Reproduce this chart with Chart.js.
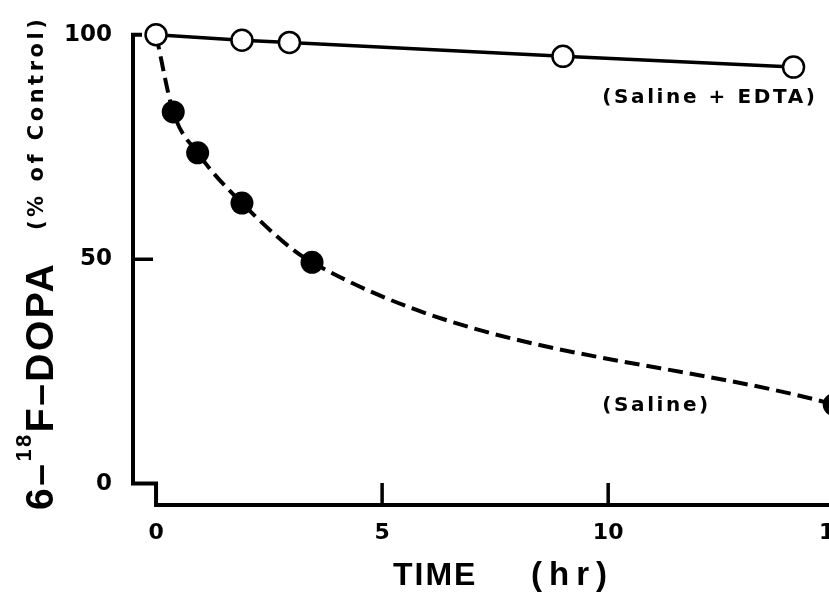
<!DOCTYPE html>
<html>
<head>
<meta charset="utf-8">
<script src="https://cdn.jsdelivr.net/npm/chart.js@4"></script>
<style>
html, body { margin: 0; padding: 0; background: #fff; overflow: hidden; }
#wrap { width: 880px; height: 595px; }
</style>
</head>
<body>
<div id="wrap"><canvas id="dopaChart" width="880" height="595"></canvas></div>
<script>
// values (time in hr, % of control)
const edtaTime = [0, 1.9, 2.95, 9, 14.1];
const edtaValue = [100, 98.8, 98.3, 95.2, 92.8];
const salineTime = [0, 0.38, 0.92, 1.9, 3.45, 15];
const salineValue = [100, 82.8, 73.7, 62.5, 49.3, 17.6];
const xTicks = [0, 5, 10, 15];
const yTicks = [0, 50, 100];

const ink = '#000';
const toPts = (xs, ys) => xs.map((x, i) => ({ x: x, y: ys[i] }));

// broken-corner axis frame with inward ticks
const framePlugin = {
  id: 'frame',
  beforeDatasetsDraw(chart) {
    const { ctx, chartArea: a, scales: { x, y } } = chart;
    const x0 = x.getPixelForValue(0), y0 = y.getPixelForValue(0);
    const yTop = y.getPixelForValue(100);
    ctx.save();
    ctx.strokeStyle = ink;
    ctx.lineWidth = 4;
    ctx.lineJoin = 'miter';
    ctx.beginPath();
    ctx.moveTo(a.left + 9, yTop);
    ctx.lineTo(a.left, yTop);
    ctx.lineTo(a.left, y0);
    ctx.lineTo(x0, y0);
    ctx.lineTo(x0, a.bottom);
    ctx.lineTo(a.right, a.bottom);
    ctx.stroke();
    ctx.lineWidth = 3.5;
    ctx.beginPath();
    yTicks.filter(v => v > 0 && v < 100).forEach(v => {
      const p = y.getPixelForValue(v);
      ctx.moveTo(a.left, p);
      ctx.lineTo(a.left + 20, p);
    });
    xTicks.filter(v => v > 0).forEach(v => {
      const p = x.getPixelForValue(v);
      ctx.moveTo(p, a.bottom);
      ctx.lineTo(p, a.bottom - 22);
    });
    ctx.stroke();
    ctx.restore();
  },
  afterDraw(chart) {
    const { ctx, scales: { x, y } } = chart;
    ctx.save();
    ctx.fillStyle = ink;
    ctx.textAlign = 'left';
    ctx.textBaseline = 'alphabetic';

    // y title, big part with superscript
    ctx.save();
    ctx.translate(53, 510);
    ctx.rotate(-Math.PI / 2);
    ctx.letterSpacing = '2.5px';
    ctx.font = 'bold 39px "Liberation Sans"';
    let cx = 0;
    ctx.fillText('6–', cx, 0);
    cx += ctx.measureText('6–').width;
    ctx.font = 'bold 22px "Liberation Sans"';
    ctx.fillText('18', cx, -22);
    cx += ctx.measureText('18').width;
    ctx.font = 'bold 39px "Liberation Sans"';
    ctx.fillText('F–DOPA', cx, 0);
    ctx.restore();

    // y title, small part
    ctx.save();
    ctx.translate(43, 230);
    ctx.rotate(-Math.PI / 2);
    ctx.letterSpacing = '3.5px';
    ctx.font = 'bold 21px "DejaVu Sans"';
    ctx.fillText('(% of Control)', 0, 0);
    ctx.restore();

    // x title
    ctx.font = 'bold 32px "Liberation Sans"';
    ctx.letterSpacing = '2px';
    ctx.fillText('TIME', 393, 585);
    ctx.font = 'bold 33px "Liberation Sans"';
    ctx.letterSpacing = '7px';
    ctx.fillText('(hr)', 531, 585);

    // series labels
    ctx.font = 'bold 20px "DejaVu Sans"';
    ctx.letterSpacing = '2.6px';
    ctx.textBaseline = 'middle';
    const lx = x.getPixelForValue(9.87);
    ctx.fillText('(Saline + EDTA)', lx, y.getPixelForValue(85.9));
    ctx.fillText('(Saline)', lx, y.getPixelForValue(17.4));
    ctx.restore();
  }
};

new Chart(document.getElementById('dopaChart'), {
  type: 'line',
  data: {
    datasets: [
      {
        label: 'Saline + EDTA',
        data: toPts(edtaTime, edtaValue),
        borderColor: ink,
        borderWidth: 3.5,
        tension: 0,
        pointRadius: 10.5,
        pointBackgroundColor: '#fff',
        pointBorderColor: ink,
        pointBorderWidth: 2.5,
        clip: false
      },
      {
        label: 'Saline',
        data: toPts(salineTime, salineValue),
        borderColor: ink,
        borderWidth: 4,
        borderDash: [15, 7],
        cubicInterpolationMode: 'monotone',
        pointRadius: salineTime.map((t, i) => i === 0 ? 0 : 11.5),
        pointBackgroundColor: ink,
        pointBorderColor: ink,
        pointBorderWidth: 0,
        clip: false
      }
    ]
  },
  options: {
    responsive: false,
    animation: false,
    devicePixelRatio: 1,
    layout: { padding: { top: 23, right: 20, left: 0, bottom: 0 } },
    plugins: {
      legend: { display: false },
      tooltip: { enabled: false }
    },
    scales: {
      x: {
        type: 'linear',
        min: -0.51,
        max: 15.57,
        grid: { display: false, drawTicks: false },
        border: { display: false },
        afterBuildTicks: s => { s.ticks = xTicks.map(v => ({ value: v })); },
        afterFit: s => { s.height = 90; },
        ticks: {
          color: ink,
          maxRotation: 0,
          padding: 15,
          font: { family: 'DejaVu Sans', weight: 'bold', size: 22 }
        }
      },
      y: {
        type: 'linear',
        min: -4.78,
        max: 100,
        grid: { display: false, drawTicks: false },
        border: { display: false },
        afterBuildTicks: s => { s.ticks = yTicks.map(v => ({ value: v })); },
        afterFit: s => { s.width = 133; },
        ticks: {
          color: ink,
          padding: 21,
          font: { family: 'DejaVu Sans', weight: 'bold', size: 23 }
        }
      }
    }
  },
  plugins: [framePlugin]
});
</script>
</body>
</html>
